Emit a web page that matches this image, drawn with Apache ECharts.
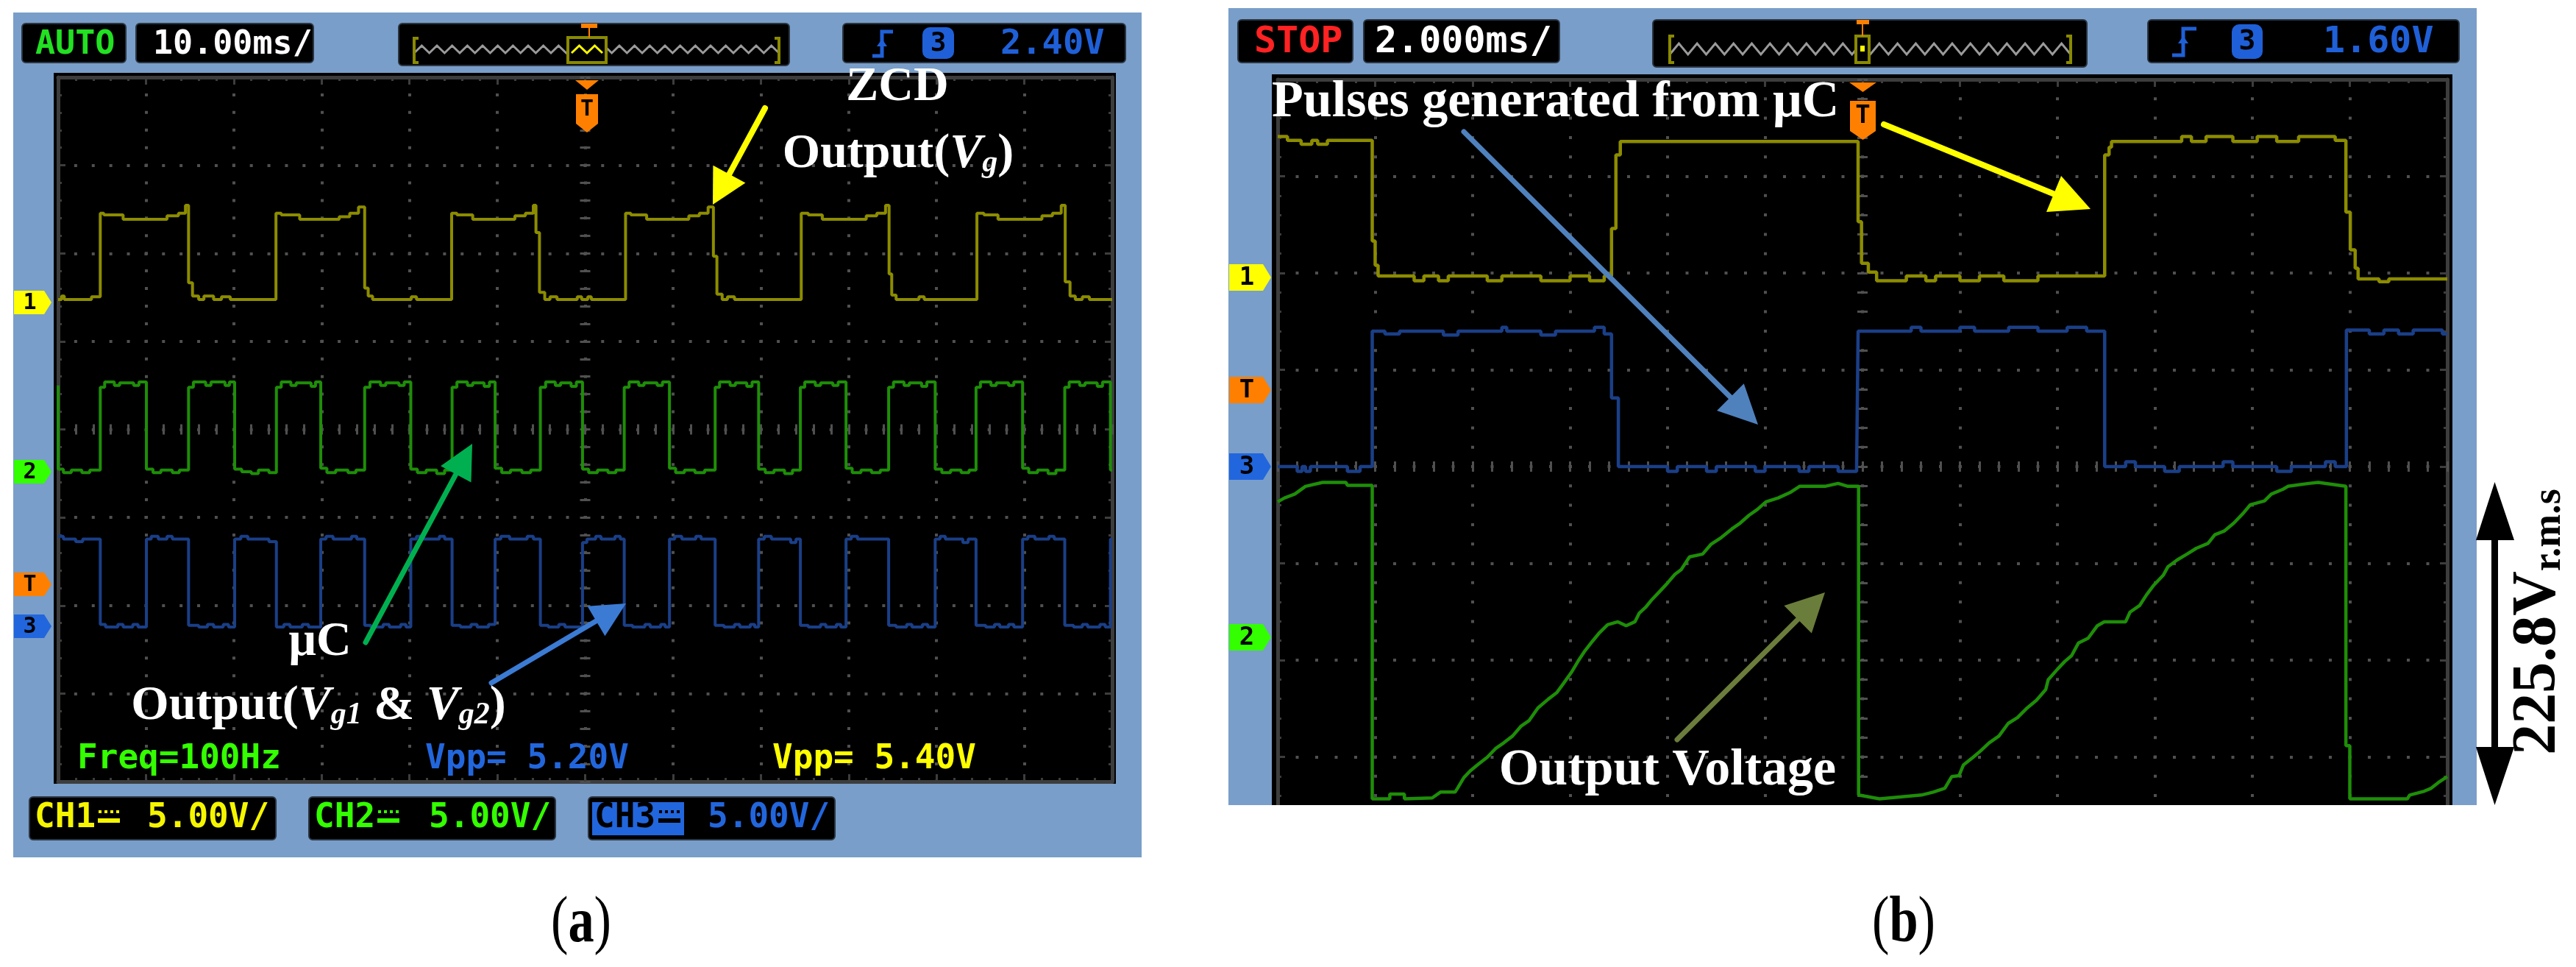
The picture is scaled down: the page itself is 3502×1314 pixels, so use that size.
<!DOCTYPE html>
<html><head><meta charset="utf-8">
<script src="https://cdn.jsdelivr.net/npm/echarts@6/dist/echarts.min.js"></script>
<style>html,body{margin:0;padding:0;background:#fff}#c{width:3502px;height:1314px}</style>
</head><body><div id="c"></div>
<script>
// ---------------- DATA ----------------
// Panel (a): 10 ms/div, 5 V/div. time in ms relative to trigger, volts relative to each channel ground
const ch1A = [
[-60,0.05],[-59.6,0.05],[-59.6,0.25],[-59.3,0.25],[-59.3,0.05],[-56.2,0.05],[-56.2,0.2],[-55.2,0.2],
[-55.2,4.95],[-54.8,4.95],[-54.8,4.85],[-52.6,4.85],[-52.6,4.6],[-47.6,4.6],[-47.6,4.8],[-46.3,4.8],[-46.3,4.95],[-45.5,4.95],[-45.5,5.4],[-45.15,5.4],
[-45.15,1.0],[-44.7,1.0],[-44.7,0.25],[-44.0,0.25],[-44.0,0.05],[-43.4,0.05],[-43.4,0.25],[-42.3,0.25],[-42.3,0.05],[-41.4,0.05],[-41.4,0.2],[-40.4,0.2],[-40.4,0.05],[-35.2,0.05],
[-35.2,4.95],[-34.6,4.95],[-34.6,4.85],[-32.5,4.85],[-32.5,4.6],[-28.0,4.6],[-28.0,4.75],[-26.8,4.75],[-26.8,4.95],[-25.8,4.95],[-25.8,5.3],[-25.1,5.3],
[-25.1,0.7],[-24.7,0.7],[-24.7,0.25],[-24.2,0.25],[-24.2,0.05],[-19.8,0.05],[-19.8,0.2],[-19.2,0.2],[-19.2,0.05],[-15.2,0.05],
[-15.2,4.95],[-14.6,4.95],[-14.6,4.85],[-12.8,4.85],[-12.8,4.6],[-8.0,4.6],[-8.0,4.8],[-6.8,4.8],[-6.8,4.95],[-5.9,4.95],[-5.9,5.4],[-5.6,5.4],
[-5.6,3.85],[-5.2,3.85],[-5.2,0.45],[-4.6,0.45],[-4.6,0.05],[-4.0,0.05],[-4.0,0.2],[-3.2,0.2],[-3.2,0.05],[-0.9,0.05],[-0.9,0.2],[-0.4,0.2],[-0.4,0.05],[0.3,0.05],[0.3,0.2],[0.7,0.2],[0.7,0.05],[4.6,0.05],
[4.6,4.95],[5.2,4.95],[5.2,4.85],[7.0,4.85],[7.0,4.6],[11.8,4.6],[11.8,4.8],[13.0,4.8],[13.0,4.95],[14.0,4.95],[14.0,5.3],[14.6,5.3],
[14.6,2.5],[15.0,2.5],[15.0,0.35],[15.6,0.35],[15.6,0.05],[16.2,0.05],[16.2,0.2],[17.0,0.2],[17.0,0.05],[24.6,0.05],
[24.6,4.95],[25.4,4.95],[25.4,4.85],[27.0,4.85],[27.0,4.6],[32.0,4.6],[32.0,4.8],[33.2,4.8],[33.2,4.95],[34.2,4.95],[34.2,5.4],[34.6,5.4],
[34.6,1.5],[34.9,1.5],[34.9,0.3],[35.4,0.3],[35.4,0.05],[38.0,0.05],[38.0,0.2],[38.6,0.2],[38.6,0.05],[44.6,0.05],
[44.6,4.95],[45.4,4.95],[45.4,4.85],[47.0,4.85],[47.0,4.6],[52.0,4.6],[52.0,4.8],[53.2,4.8],[53.2,4.95],[54.2,4.95],[54.2,5.4],[54.65,5.4],
[54.65,1.05],[55.2,1.05],[55.2,0.25],[55.8,0.25],[55.8,0.05],[56.6,0.05],[56.6,0.2],[57.4,0.2],[57.4,0.05],[60,0.05]
];
const ch2A = [
[-60,4.9],[-60,0.15],[-59.4,0.15],[-59.4,-0.05],[-58.5,-0.05],[-58.5,0.1],[-57.3,0.1],[-57.3,-0.05],[-56.4,-0.05],[-56.4,0.1],[-55.2,0.1],
[-55.2,4.8],[-54.7,4.8],[-54.7,5.1],[-53.6,5.1],[-53.6,4.9],[-53.0,4.9],[-53.0,5.05],[-51.4,5.05],[-51.4,4.9],[-50.8,4.9],[-50.8,5.1],[-49.95,5.1],
[-49.95,0.15],[-49.2,0.15],[-49.2,-0.05],[-48.3,-0.05],[-48.3,0.1],[-47.0,0.1],[-47.0,-0.05],[-46.2,-0.05],[-46.2,0.1],[-45.15,0.1],
[-45.15,4.8],[-44.6,4.8],[-44.6,5.1],[-43.2,5.1],[-43.2,4.9],[-42.6,4.9],[-42.6,5.1],[-41.0,5.1],[-41.0,4.9],[-40.5,4.9],[-40.5,5.1],[-39.9,5.1],
[-39.9,0.15],[-39.1,0.15],[-39.1,0.0],[-38.0,0.0],[-38.0,-0.1],[-37.2,-0.1],[-37.2,0.1],[-36.0,0.1],[-36.0,-0.05],[-35.15,-0.05],
[-35.15,4.8],[-34.6,4.8],[-34.6,5.1],[-33.5,5.1],[-33.5,4.9],[-32.9,4.9],[-32.9,5.05],[-31.2,5.05],[-31.2,4.85],[-30.7,4.85],[-30.7,5.1],[-30.1,5.1],
[-30.1,0.2],[-29.4,0.2],[-29.4,-0.05],[-28.4,-0.05],[-28.4,0.1],[-27.0,0.1],[-27.0,-0.05],[-26.1,-0.05],[-26.1,0.1],[-25.1,0.1],
[-25.1,4.8],[-24.5,4.8],[-24.5,5.1],[-23.3,5.1],[-23.3,4.9],[-22.7,4.9],[-22.7,5.05],[-21.2,5.05],[-21.2,4.9],[-20.6,4.9],[-20.6,5.1],[-19.85,5.1],
[-19.85,0.15],[-19.1,0.15],[-19.1,-0.05],[-18.1,-0.05],[-18.1,0.1],[-16.9,0.1],[-16.9,-0.1],[-16.0,-0.1],[-16.0,0.1],[-15.15,0.1],
[-15.15,4.8],[-14.6,4.8],[-14.6,5.1],[-13.4,5.1],[-13.4,4.9],[-12.8,4.9],[-12.8,5.05],[-11.5,5.05],[-11.5,4.85],[-10.9,4.85],[-10.9,5.1],[-10.25,5.1],
[-10.25,0.2],[-9.5,0.2],[-9.5,-0.05],[-8.5,-0.05],[-8.5,0.1],[-7.2,0.1],[-7.2,-0.05],[-6.2,-0.05],[-6.2,0.1],[-5.1,0.1],
[-5.1,4.8],[-4.5,4.8],[-4.5,5.1],[-3.4,5.1],[-3.4,4.9],[-2.8,4.9],[-2.8,5.05],[-1.6,5.05],[-1.6,4.85],[-1.0,4.85],[-1.0,5.1],[-0.3,5.1],
[-0.3,0.15],[0.4,0.15],[0.4,-0.05],[1.4,-0.05],[1.4,0.1],[2.6,0.1],[2.6,-0.05],[3.5,-0.05],[3.5,0.1],[4.45,0.1],
[4.45,4.8],[5.0,4.8],[5.0,5.1],[6.1,5.1],[6.1,4.9],[6.7,4.9],[6.7,5.05],[8.2,5.05],[8.2,4.9],[8.8,4.9],[8.8,5.1],[9.6,5.1],
[9.6,0.2],[10.3,0.2],[10.3,-0.05],[11.3,-0.05],[11.3,0.1],[12.5,0.1],[12.5,-0.05],[13.6,-0.05],[13.6,0.1],[14.8,0.1],
[14.8,4.8],[15.3,4.8],[15.3,5.1],[16.5,5.1],[16.5,4.9],[17.1,4.9],[17.1,5.05],[18.4,5.05],[18.4,4.85],[19.0,4.85],[19.0,5.1],[19.75,5.1],
[19.75,0.15],[20.5,0.15],[20.5,-0.05],[21.5,-0.05],[21.5,0.1],[22.7,0.1],[22.7,-0.1],[23.6,-0.1],[23.6,0.1],[24.5,0.1],
[24.5,4.8],[25.0,4.8],[25.0,5.1],[26.2,5.1],[26.2,4.9],[26.8,4.9],[26.8,5.05],[28.2,5.05],[28.2,4.9],[28.8,4.9],[28.8,5.1],[29.7,5.1],
[29.7,0.2],[30.4,0.2],[30.4,-0.05],[31.4,-0.05],[31.4,0.1],[32.6,0.1],[32.6,-0.05],[33.6,-0.05],[33.6,0.1],[34.55,0.1],
[34.55,4.8],[35.1,4.8],[35.1,5.1],[36.3,5.1],[36.3,4.9],[36.9,4.9],[36.9,5.05],[38.3,5.05],[38.3,4.85],[38.9,4.85],[38.9,5.1],[39.85,5.1],
[39.85,0.15],[40.6,0.15],[40.6,-0.05],[41.6,-0.05],[41.6,0.1],[42.8,0.1],[42.8,-0.05],[43.7,-0.05],[43.7,0.1],[44.5,0.1],
[44.5,4.8],[45.0,4.8],[45.0,5.1],[46.2,5.1],[46.2,4.9],[46.8,4.9],[46.8,5.05],[48.2,5.05],[48.2,4.9],[48.8,4.9],[48.8,5.1],[49.8,5.1],
[49.8,0.2],[50.5,0.2],[50.5,-0.05],[51.5,-0.05],[51.5,0.1],[52.7,0.1],[52.7,-0.1],[53.6,-0.1],[53.6,0.1],[54.6,0.1],
[54.6,4.8],[55.1,4.8],[55.1,5.1],[56.3,5.1],[56.3,4.9],[56.9,4.9],[56.9,5.05],[58.3,5.05],[58.3,4.85],[58.9,4.85],[58.9,5.1],[59.8,5.1],
[59.8,0.1],[60,0.1]
];
const ch3A = [
[-60,5.15],[-59.4,5.15],[-59.4,5.0],[-58.0,5.0],[-58.0,4.85],[-57.2,4.85],[-57.2,5.0],[-55.2,5.0],
[-55.2,0.15],[-54.6,0.15],[-54.6,0.0],[-53.2,0.0],[-53.2,0.15],[-52.6,0.15],[-52.6,0.0],[-51.5,0.0],[-51.5,0.15],[-50.9,0.15],[-50.9,0.0],[-49.95,0.0],
[-49.95,5.0],[-49.4,5.0],[-49.4,5.15],[-48.6,5.15],[-48.6,5.0],[-47.6,5.0],[-47.6,5.15],[-47.0,5.15],[-47.0,5.0],[-45.15,5.0],
[-45.15,0.1],[-44.0,0.1],[-44.0,0.0],[-43.0,0.0],[-43.0,0.15],[-42.3,0.15],[-42.3,0.0],[-41.2,0.0],[-41.2,0.15],[-40.6,0.15],[-40.6,0.0],[-39.9,0.0],
[-39.9,5.0],[-39.2,5.0],[-39.2,5.15],[-38.4,5.15],[-38.4,5.0],[-36.0,5.0],[-36.0,4.85],[-35.15,4.85],
[-35.15,0.0],[-34.3,0.0],[-34.3,0.15],[-33.6,0.15],[-33.6,0.0],[-32.2,0.0],[-32.2,0.15],[-31.5,0.15],[-31.5,0.0],[-30.1,0.0],
[-30.1,5.0],[-29.5,5.0],[-29.5,5.15],[-28.7,5.15],[-28.7,5.0],[-26.6,5.0],[-26.6,5.15],[-26.0,5.15],[-26.0,5.0],[-25.1,5.0],
[-25.1,0.1],[-24.4,0.1],[-24.4,0.0],[-23.0,0.0],[-23.0,0.15],[-22.3,0.15],[-22.3,0.0],[-21.0,0.0],[-21.0,0.15],[-20.4,0.15],[-20.4,0.0],[-19.85,0.0],
[-19.85,5.0],[-19.2,5.0],[-19.2,5.15],[-18.4,5.15],[-18.4,5.0],[-16.6,5.0],[-16.6,5.15],[-16.0,5.15],[-16.0,5.0],[-15.15,5.0],
[-15.15,0.1],[-14.2,0.1],[-14.2,0.0],[-13.0,0.0],[-13.0,0.15],[-12.3,0.15],[-12.3,0.0],[-11.0,0.0],[-11.0,0.15],[-10.25,0.15],
[-10.25,5.0],[-9.6,5.0],[-9.6,5.15],[-8.6,5.15],[-8.6,5.0],[-6.6,5.0],[-6.6,5.15],[-5.9,5.15],[-5.9,5.0],[-5.1,5.0],
[-5.1,0.1],[-4.2,0.1],[-4.2,0.0],[-3.0,0.0],[-3.0,0.15],[-2.3,0.15],[-2.3,0.0],[-0.3,0.0],
[-0.3,4.8],[0.2,4.8],[0.2,5.0],[1.2,5.0],[1.2,5.15],[1.8,5.15],[1.8,5.0],[3.4,5.0],[3.4,5.15],[4.0,5.15],[4.0,5.0],[4.45,5.0],
[4.45,0.1],[5.4,0.1],[5.4,0.0],[6.8,0.0],[6.8,0.15],[7.4,0.15],[7.4,0.0],[8.6,0.0],[8.6,0.15],[9.1,0.15],[9.1,0.0],[9.6,0.0],
[9.6,5.0],[10.2,5.0],[10.2,5.15],[11.0,5.15],[11.0,5.0],[12.6,5.0],[12.6,5.15],[13.2,5.15],[13.2,5.0],[14.8,5.0],
[14.8,0.1],[15.8,0.1],[15.8,0.0],[17.0,0.0],[17.0,0.15],[17.6,0.15],[17.6,0.0],[18.8,0.0],[18.8,0.15],[19.3,0.15],[19.3,0.0],[19.75,0.0],
[19.75,5.0],[20.4,5.0],[20.4,5.15],[21.2,5.15],[21.2,5.0],[23.4,5.0],[23.4,4.8],[24.0,4.8],[24.0,5.0],[24.5,5.0],
[24.5,0.1],[25.4,0.1],[25.4,0.0],[26.8,0.0],[26.8,0.15],[27.4,0.15],[27.4,0.0],[28.6,0.0],[28.6,0.15],[29.1,0.15],[29.1,0.0],[29.7,0.0],
[29.7,5.0],[30.3,5.0],[30.3,5.15],[31.0,5.15],[31.0,5.0],[34.55,5.0],
[34.55,0.1],[35.4,0.1],[35.4,0.0],[36.6,0.0],[36.6,0.15],[37.2,0.15],[37.2,0.0],[38.4,0.0],[38.4,0.15],[39.0,0.15],[39.0,0.0],[39.85,0.0],
[39.85,5.0],[40.4,5.0],[40.4,5.15],[41.0,5.15],[41.0,5.0],[43.0,5.0],[43.0,4.8],[43.6,4.8],[43.6,5.0],[44.5,5.0],
[44.5,0.1],[45.6,0.1],[45.6,0.0],[46.6,0.0],[46.6,0.15],[47.2,0.15],[47.2,0.0],[48.2,0.0],[48.2,0.15],[48.8,0.15],[48.8,0.0],[49.8,0.0],
[49.8,5.0],[50.4,5.0],[50.4,5.15],[51.2,5.15],[51.2,5.0],[52.8,5.0],[52.8,5.15],[53.4,5.15],[53.4,5.0],[54.6,5.0],
[54.6,0.1],[55.6,0.1],[55.6,0.0],[56.6,0.0],[56.6,0.15],[57.2,0.15],[57.2,0.0],[58.6,0.0],[58.6,0.15],[59.2,0.15],[59.2,0.0],[59.8,0.0],
[59.8,5.0],[60,5.0]
];
// screen position of each channel ground in divisions from centre (a)
const groundA = [1.466, -0.481, -2.245];
const voltsPerDivA = 5;

// Panel (b): 2 ms/div, time in ms relative to trigger, amplitude in divisions above channel ground
const ch1B = [
[-12.0,1.44],[-11.8,1.44],[-11.8,1.40],[-11.52,1.40],[-11.52,1.36],[-11.3,1.36],[-11.3,1.40],[-11.18,1.40],[-11.18,1.36],[-10.98,1.36],[-10.98,1.40],[-10.06,1.40],
[-10.06,0.36],[-10.0,0.36],[-10.0,0.11],[-9.94,0.11],[-9.94,0.0],[-9.2,0.0],[-9.2,-0.05],[-9.0,-0.05],[-9.0,0.0],[-8.7,0.0],[-8.7,-0.05],[-8.5,-0.05],[-8.5,0.0],
[-7.7,0.0],[-7.7,-0.05],[-7.4,-0.05],[-7.4,0.0],[-6.6,0.0],[-6.6,-0.05],[-6.0,-0.05],[-6.0,0.0],[-5.6,0.0],[-5.6,-0.05],[-5.3,-0.05],[-5.3,0.0],[-5.15,0.0],
[-5.15,0.49],[-5.06,0.49],[-5.06,1.25],[-4.97,1.25],[-4.97,1.39],[-0.09,1.39],
[-0.09,0.56],[-0.02,0.56],[-0.02,0.13],[0.12,0.13],[0.12,0.04],[0.29,0.04],[0.29,-0.05],[0.9,-0.05],[0.9,0.0],[1.3,0.0],[1.3,-0.05],[1.5,-0.05],[1.5,0.0],
[2.0,0.0],[2.0,-0.05],[2.4,-0.05],[2.4,0.0],[2.9,0.0],[2.9,-0.05],[3.6,-0.05],[3.6,0.0],[4.97,0.0],
[4.97,1.25],[5.06,1.25],[5.06,1.33],[5.11,1.33],[5.11,1.39],[6.55,1.39],[6.55,1.44],[6.75,1.44],[6.75,1.39],[7.05,1.39],[7.05,1.44],[7.6,1.44],[7.6,1.39],
[8.1,1.39],[8.1,1.44],[8.5,1.44],[8.5,1.39],[8.95,1.39],[8.95,1.44],[9.7,1.44],[9.7,1.40],[9.92,1.40],
[9.92,0.66],[10.01,0.66],[10.01,0.27],[10.11,0.27],[10.11,0.08],[10.17,0.08],[10.17,-0.03],[10.6,-0.03],[10.6,-0.06],[10.8,-0.06],[10.8,-0.03],[12.0,-0.03]
];
const ch2B = [
[-12.0,1.40],[-11.86,1.44],[-11.65,1.48],[-11.43,1.56],[-11.08,1.60],[-10.6,1.60],[-10.57,1.57],[-10.06,1.57],
[-10.06,-1.67],[-9.7,-1.67],[-9.7,-1.62],[-9.4,-1.62],[-9.4,-1.67],[-8.83,-1.66],[-8.66,-1.60],[-8.36,-1.60],
[-8.31,-1.56],[-8.18,-1.45],[-8.05,-1.38],[-7.88,-1.31],[-7.70,-1.24],[-7.53,-1.15],[-7.36,-1.09],[-7.18,-1.02],[-7.01,-0.92],[-6.84,-0.86],
[-6.66,-0.73],[-6.45,-0.64],[-6.27,-0.57],[-6.14,-0.48],[-5.97,-0.36],[-5.84,-0.25],[-5.71,-0.15],[-5.54,-0.04],[-5.41,0.04],[-5.23,0.13],
[-5.02,0.16],[-4.85,0.12],[-4.67,0.16],[-4.58,0.25],[-4.45,0.31],[-4.32,0.39],[-4.15,0.48],[-4.02,0.55],[-3.85,0.65],[-3.72,0.70],[-3.55,0.83],
[-3.28,0.86],[-3.11,0.96],[-2.90,1.03],[-2.68,1.12],[-2.51,1.18],[-2.33,1.26],[-2.16,1.32],[-1.98,1.40],[-1.73,1.44],[-1.47,1.50],[-1.29,1.56],
[-0.77,1.56],[-0.5,1.59],[-0.3,1.56],[-0.08,1.56],
[-0.08,-1.63],[0.35,-1.67],[1.21,-1.63],[1.45,-1.60],[1.69,-1.56],[1.83,-1.44],[1.98,-1.43],[2.07,-1.32],[2.27,-1.24],[2.41,-1.18],[2.60,-1.09],
[2.80,-1.02],[2.99,-0.89],[3.18,-0.83],[3.38,-0.73],[3.57,-0.65],[3.76,-0.54],[3.81,-0.44],[4.00,-0.33],[4.15,-0.25],[4.29,-0.19],[4.43,-0.06],
[4.63,-0.01],[4.82,0.12],[4.96,0.16],[5.40,0.16],[5.49,0.26],[5.69,0.33],[5.83,0.44],[5.98,0.54],[6.17,0.64],[6.27,0.73],[6.46,0.80],[6.66,0.86],
[6.85,0.92],[7.09,0.97],[7.23,1.06],[7.43,1.10],[7.62,1.18],[7.81,1.28],[7.96,1.37],[8.25,1.41],[8.39,1.48],[8.63,1.53],[8.73,1.56],[9.16,1.59],
[9.35,1.60],[9.92,1.56],
[9.92,-1.12],[10.0,-1.12],[10.0,-1.67],[11.18,-1.67],[11.23,-1.63],[11.53,-1.59],[11.67,-1.56],[11.82,-1.50],[12.0,-1.44]
];
const ch3B = [
[-12.0,0.0],[-11.6,0.0],[-11.6,-0.05],[-11.5,-0.05],[-11.5,0.0],[-11.43,0.0],[-11.43,-0.05],[-11.33,-0.05],[-11.33,0.0],[-10.57,0.0],[-10.57,-0.05],[-10.31,-0.05],[-10.31,0.0],[-10.06,0.0],
[-10.06,1.40],[-9.8,1.40],[-9.8,1.37],[-9.5,1.37],[-9.5,1.40],[-8.6,1.40],[-8.6,1.36],[-8.3,1.36],[-8.3,1.40],[-7.4,1.40],[-7.4,1.44],[-7.3,1.44],[-7.3,1.40],
[-6.6,1.40],[-6.6,1.36],[-6.3,1.36],[-6.3,1.40],[-5.5,1.40],[-5.5,1.44],[-5.3,1.44],[-5.3,1.37],[-5.15,1.37],
[-5.15,0.71],[-5.01,0.71],[-5.01,0.0],[-4.0,0.0],[-4.0,-0.05],[-3.8,-0.05],[-3.8,0.0],[-3.2,0.0],[-3.2,-0.05],[-3.0,-0.05],[-3.0,0.0],[-2.2,0.0],[-2.2,-0.05],
[-2.0,-0.05],[-2.0,0.0],[-1.3,0.0],[-1.3,-0.05],[-1.1,-0.05],[-1.1,0.0],[-0.5,0.0],[-0.5,-0.05],[-0.12,-0.05],[-0.12,0.0],[-0.09,0.0],
[-0.09,1.40],[1.0,1.40],[1.0,1.44],[1.2,1.44],[1.2,1.40],[2.0,1.40],[2.0,1.44],[2.3,1.44],[2.3,1.40],[3.0,1.40],[3.0,1.44],[3.6,1.44],[3.6,1.40],
[4.2,1.40],[4.2,1.44],[4.6,1.44],[4.6,1.40],[4.97,1.40],
[4.97,0.0],[5.4,0.0],[5.4,0.05],[5.6,0.05],[5.6,0.0],[6.2,0.0],[6.2,-0.05],[6.5,-0.05],[6.5,0.0],[7.4,0.0],[7.4,0.05],[7.6,0.05],[7.6,0.0],
[8.5,0.0],[8.5,-0.05],[8.8,-0.05],[8.8,0.0],[9.5,0.0],[9.5,0.05],[9.7,0.05],[9.7,0.0],[9.93,0.0],
[9.93,1.41],[10.4,1.41],[10.4,1.37],[10.7,1.37],[10.7,1.41],[11.0,1.41],[11.0,1.37],[11.3,1.37],[11.3,1.41],[11.9,1.41],[11.9,1.37],[12.0,1.37]
];
const groundB = [1.970, -1.764, 0];

// axis ranges
const xRangeA = [-60, 60, 10];
const xRangeB = [-12, 12, 2];
const yRange = [-4, 4, 1];

// texts
const topTextsA = ['AUTO', '10.00ms/', '2.40V'];
const topTextsB = ['STOP', '2.000ms/', '1.60V'];
const measTextsA = ['Freq=100Hz', 'Vpp= 5.20V', 'Vpp= 5.40V'];
const chLabelsA = ['CH1', 'CH2', 'CH3'];
const chScaleA = '5.00V/';

// ---------------- STYLE ----------------
const BLUE = '#799ec9', DOT = '#505050', BORDER = '#3d3d3d';
const C1 = '#8c8c00', C2 = '#1e8e08', C3 = '#1a3f88';
const M1 = '#ffff00', M2 = '#33ff00', M3 = '#2266dd', MT = '#ff8000';
const TBLUE = '#1f60d8';
const MONO = '"DejaVu Sans Mono"', SERIF = '"Liberation Serif"';

function buildAxes(gi, xr, yr, dx, dy, xStart, yStart) {
  const base = { gridIndex: gi, type: 'value', axisLabel: { show: false }, z: 5, silent: true };
  const xA = e => Object.assign({}, base, { min: xr[0], max: xr[1], interval: xr[2] }, e);
  const yA = e => Object.assign({}, base, { min: yr[0], max: yr[1], interval: yr[2] }, e);
  const centre = (inside, idx) => ({
    axisLine: { show: true, onZero: true, onZeroAxisIndex: idx, lineStyle: { color: 'rgba(0,0,0,0)', width: 1 } },
    axisTick: { show: true, inside: inside, length: 7, lineStyle: { color: DOT, width: 3 } },
    minorTick: { show: true, splitNumber: 5, length: 7, lineStyle: { color: DOT, width: 3 } }
  });
  const border = pos => ({
    position: pos,
    axisLine: { show: true, onZero: false, lineStyle: { color: BORDER, width: 5 } },
    axisTick: { show: true, inside: true, length: 10, lineStyle: { color: BORDER, width: 3 } },
    minorTick: { show: true, splitNumber: 5, length: 5, lineStyle: { color: BORDER, width: 3 } },
    splitLine: { show: false }
  });
  const x = [
    xA(Object.assign({ position: 'bottom', splitLine: { show: true, lineStyle: { color: DOT, width: 4, type: [4, dy / 5 - 4], dashOffset: 2 } } }, centre(true, yStart))),
    xA(Object.assign({ position: 'bottom', splitLine: { show: false } }, centre(false, yStart))),
    xA(border('bottom')), xA(border('top'))
  ];
  const y = [
    yA(Object.assign({ position: 'left', splitLine: { show: true, lineStyle: { color: DOT, width: 4, type: [4, dx / 5 - 4], dashOffset: 2 } } }, centre(true, xStart))),
    yA(Object.assign({ position: 'left', splitLine: { show: false } }, centre(false, xStart))),
    yA(border('left')), yA(border('right'))
  ];
  return { x, y };
}
const axA = buildAxes(0, xRangeA, yRange, 119.4, 119.6, 0, 0);
const axB = buildAxes(1, xRangeB, yRange, 132.5, 131.5, 4, 4);

function trace(data, color, xi, w, z, scale, off) {
  return { type: 'line', data: data.map(p => [p[0], p[1] / scale + off]), xAxisIndex: xi, yAxisIndex: xi,
    showSymbol: false, symbol: 'none', lineStyle: { color, width: w }, itemStyle: { color },
    animation: false, silent: true, z, clip: true };
}
const series = [
  trace(ch3A, C3, 0, 4, 6, voltsPerDivA, groundA[2]),
  trace(ch2A, C2, 0, 4, 7, voltsPerDivA, groundA[1]),
  trace(ch1A, C1, 0, 4, 8, voltsPerDivA, groundA[0]),
  trace(ch3B, C3, 4, 4.5, 6, 1, groundB[2]),
  trace(ch2B, C2, 4, 4.5, 7, 1, groundB[1]),
  trace(ch1B, C1, 4, 4.5, 8, 1, groundB[0])
];

// ---------------- GRAPHIC (decoration) ----------------
const G = [];
const rect = (x, y, w, h, fill, z, r) => ({ type: 'rect', z, shape: { x, y, width: w, height: h, r: r || 0 }, style: { fill } });
const box = (x, y, w, h) => ({ type: 'rect', z: 3, shape: { x, y, width: w, height: h, r: 5 }, style: { fill: '#000', stroke: '#2b3542', lineWidth: 2 } });
const txt = (x, y, s, color, size, extra) => Object.assign({ type: 'text', x, y, z: 4,
  style: { text: s, fill: color, font: 'bold ' + size + 'px ' + MONO, textAlign: 'left', textVerticalAlign: 'middle', verticalAlign: 'middle' } }, extra || {});
const poly = (pts, fill, z) => ({ type: 'polygon', z: z || 20, shape: { points: pts }, style: { fill } });
const pline = (pts, color, w, z) => ({ type: 'polyline', z: z || 4, shape: { points: pts }, style: { stroke: color, lineWidth: w, fill: 'none' } });
function zig(x0, x1, n, ya, yb, color, w) {
  const pts = [];
  for (let i = 0; i <= n; i++) pts.push([x0 + (x1 - x0) * i / n, i % 2 ? ya : yb]);
  return pline(pts, color, w, 4);
}
function arrow(x1, y1, x2, y2, color, lw, hl, hw) {
  const dx = x2 - x1, dy = y2 - y1, L = Math.hypot(dx, dy), ux = dx / L, uy = dy / L;
  const bx = x2 - ux * hl, by = y2 - uy * hl, px = -uy, py = ux;
  return [
    { type: 'line', z: 25, shape: { x1, y1, x2: bx + ux * 4, y2: by + uy * 4 }, style: { stroke: color, lineWidth: lw, lineCap: 'round' } },
    poly([[x2, y2], [bx + px * hw / 2, by + py * hw / 2], [bx - px * hw / 2, by - py * hw / 2]], color, 25)
  ];
}
function chMarker(x0, x1, x2, yc, h, color, label, fs) {
  return [poly([[x0, yc - h / 2], [x1, yc - h / 2], [x2, yc], [x1, yc + h / 2], [x0, yc + h / 2]], color, 20),
    { type: 'text', z: 21, x: (x0 + x1) / 2 + 1, y: yc + 1, style: { text: label, fill: '#000', font: 'bold ' + fs + 'px ' + MONO, textAlign: 'center', textVerticalAlign: 'middle', verticalAlign: 'middle' } }];
}
function topT(xl, xr, yt, yb1, yb2, yb3, fs) {
  const xc = (xl + xr) / 2;
  return [poly([[xl, yt], [xr, yt], [xc, yt + 13]], MT, 20),
    poly([[xl + 1, yb1], [xr - 1, yb1], [xr - 1, yb2], [xc, yb3], [xl + 1, yb2]], MT, 20),
    { type: 'text', z: 21, x: xc, y: (yb1 + yb2) / 2 + 1, style: { text: 'T', fill: '#000', font: 'bold ' + fs + 'px ' + MONO, textAlign: 'center', textVerticalAlign: 'middle', verticalAlign: 'middle' } }];
}
function edgeIcon(x0, x1, x2, yTop, yBot, color) {
  return [pline([[x0, yBot], [x1, yBot], [x1, yTop], [x2, yTop]], color, 5, 4),
    poly([[x1, yTop + 10], [x1 - 7, yTop + 20], [x1 + 7, yTop + 20]], color, 4)];
}
function srcIcon(x, y, w, h, fs) {
  return [{ type: 'rect', z: 4, shape: { x, y, width: w, height: h, r: 10 }, style: { fill: TBLUE } },
    { type: 'text', z: 5, x: x + w / 2, y: y + h / 2 + 1, style: { text: '3', fill: '#000', font: 'bold ' + fs + 'px ' + MONO, textAlign: 'center', textVerticalAlign: 'middle', verticalAlign: 'middle' } }];
}
function dcSym(x, y, color) {
  const out = [rect(x, y + 13, 30, 6, color, 5)];
  for (let i = 0; i < 4; i++) out.push(rect(x + 1 + i * 8, y + 2, 4, 4, color, 5));
  return out;
}

// frames & screens
G.push(rect(18, 17, 1534, 1148, BLUE, 1), rect(73, 99, 1444, 966, '#000', 2));
G.push(rect(1670, 11, 1697, 1083, BLUE, 1), rect(1729, 101, 1605, 993, '#000', 2));

// panel (a) top bar
G.push(box(30, 32, 141, 53), box(185, 32, 241, 53), box(542, 32, 531, 57), box(1146, 32, 384, 53));
G.push(txt(48, 61, topTextsA[0], '#22e022', 45), txt(208, 61, topTextsA[1], '#ffffff', 45), txt(1360, 61, topTextsA[2], TBLUE, 47));
G.push(...edgeIcon(1186, 1199, 1214, 43, 76, TBLUE), ...srcIcon(1254, 37, 43, 43, 36));
G.push(zig(563, 1059, 48, 62, 72, '#9a9a9a', 3));
G.push(pline([[569, 52], [563, 52], [563, 85], [569, 85]], '#8a8a00', 4), pline([[1053, 52], [1059, 52], [1059, 85], [1053, 85]], '#8a8a00', 4));
G.push({ type: 'rect', z: 5, shape: { x: 772, y: 51, width: 52, height: 34 }, style: { fill: '#000', stroke: '#8a8a00', lineWidth: 4 } });
G.push(Object.assign(zig(777, 819, 4, 62, 72, '#ffff00', 3), { z: 6 }));
G.push(rect(790, 32, 22, 6, MT, 6), { type: 'line', z: 6, shape: { x1: 801, y1: 38, x2: 801, y2: 51 }, style: { stroke: MT, lineWidth: 2 } });

// panel (b) top bar
G.push(box(1683, 27, 156, 58), box(1854, 27, 266, 58), box(2247, 27, 590, 64), box(2920, 27, 423, 58));
G.push(txt(1705, 58, topTextsB[0], '#ff2222', 50), txt(1869, 58, topTextsB[1], '#ffffff', 50), txt(3158, 58, topTextsB[2], TBLUE, 50));
G.push(...edgeIcon(2953, 2968, 2986, 39, 75, TBLUE), ...srcIcon(3034, 33, 42, 47, 38));
G.push(zig(2270, 2815, 44, 59, 74, '#9a9a9a', 3));
G.push(pline([[2276, 49], [2270, 49], [2270, 85], [2276, 85]], '#8a8a00', 4), pline([[2809, 49], [2815, 49], [2815, 85], [2809, 85]], '#8a8a00', 4));
G.push({ type: 'rect', z: 5, shape: { x: 2523, y: 49, width: 18, height: 36 }, style: { fill: '#000', stroke: '#8a8a00', lineWidth: 4 } });
G.push(rect(2529, 62, 6, 8, '#ffff00', 6));
G.push(rect(2524, 27, 17, 6, MT, 6), { type: 'line', z: 6, shape: { x1: 2532, y1: 33, x2: 2532, y2: 49 }, style: { stroke: MT, lineWidth: 2 } });

// panel (a) measurements & channel boxes
G.push(txt(105, 1032, measTextsA[0], '#33ff00', 46, { z: 22 }), txt(578, 1032, measTextsA[1], M3, 46, { z: 22 }), txt(1050, 1032, measTextsA[2], M1, 46, { z: 22 }));
G.push(box(40, 1083, 335, 58), box(420, 1083, 335, 58), box(800, 1083, 335, 58));
G.push(txt(47, 1112, chLabelsA[0], '#f5f500', 46), ...dcSym(133, 1099, '#f5f500'), txt(200, 1112, chScaleA, '#f5f500', 46));
G.push(txt(427, 1112, chLabelsA[1], '#33ff00', 46), ...dcSym(513, 1099, '#33ff00'), txt(583, 1112, chScaleA, '#33ff00', 46));
G.push(rect(805, 1090, 125, 45, M3, 4), txt(808, 1112, chLabelsA[2], '#000', 46, { z: 5 }), ...dcSym(895, 1099, '#000'), txt(962, 1112, chScaleA, M3, 46));

// channel markers
G.push(...chMarker(19, 60, 70, 411, 32, M1, '1', 30), ...chMarker(19, 60, 70, 641, 32, M2, '2', 30),
  ...chMarker(19, 60, 70, 794, 32, MT, 'T', 30), ...chMarker(19, 60, 70, 851, 32, M3, '3', 30));
G.push(...chMarker(1671, 1717, 1728, 377, 36, M1, '1', 34), ...chMarker(1671, 1717, 1728, 530, 36, MT, 'T', 34),
  ...chMarker(1671, 1717, 1728, 634, 36, M3, '3', 34), ...chMarker(1671, 1717, 1728, 866, 36, M2, '2', 34));
G.push(...topT(782, 814, 109, 128, 168, 180, 30), ...topT(2514, 2551, 112, 137, 178, 190, 34));

// annotations (a)
const richA = {
  a: { font: 'bold 66px ' + SERIF, fill: '#fff', lineHeight: 66 },
  v: { font: 'italic bold 66px ' + SERIF, fill: '#fff', lineHeight: 66 },
  s: { font: 'italic bold 42px ' + SERIF, fill: '#fff', lineHeight: 35, verticalAlign: 'bottom' }
};
const ann = (x, y, t, align, rich) => ({ type: 'text', z: 26, x, y, style: { text: t, rich: rich || richA, fill: '#fff', textAlign: align, textVerticalAlign: 'middle', verticalAlign: 'middle' } });
G.push(ann(1220, 119, '{a|ZCD}', 'center'), ann(1221, 210, '{a|Output(}{v|V}{s|g}{a|)}', 'center'));
G.push(ann(435, 873, '{a|μC}', 'center'), ann(433, 960, '{a|Output(}{v|V}{s|g1}{a| & }{v|V}{s|g2}{a|)}', 'center'));
G.push(...arrow(1040, 147, 969, 278, '#ffff00', 8, 47, 50));
G.push(...arrow(497, 873, 642, 603, '#00b050', 7, 47, 47));
G.push(...arrow(668, 928, 851, 820, '#3b7bd4', 7, 47, 47));

// annotations (b)
const richB = { a: { font: 'bold 70px ' + SERIF, fill: '#fff', lineHeight: 70 } };
G.push(ann(1729, 140, '{a|Pulses generated from μC}', 'left', richB), ann(2267, 1048, '{a|Output Voltage}', 'center', richB));
G.push(...arrow(1990, 179, 2390, 577, '#4f81bd', 7, 53, 52));
G.push(...arrow(2561, 169, 2842, 284, '#ffff00', 8, 54, 53));
G.push(...arrow(2280, 1005, 2481, 805, '#6b7d3b', 7, 52, 53));

// crop of panel (b) bottom
G.push(rect(1660, 1094, 1709, 90, '#ffffff', 30));

// 225.8 V r.m.s double arrow
G.push({ type: 'line', z: 31, shape: { x1: 3391.5, y1: 730, x2: 3391.5, y2: 1019 }, style: { stroke: '#000', lineWidth: 9 } });
G.push(poly([[3391.5, 655], [3366, 734], [3418, 734]], '#000', 31), poly([[3391.5, 1094], [3366, 1015], [3418, 1015]], '#000', 31));
G.push({ type: 'text', z: 31, x: 3451, y: 845, rotation: Math.PI / 2,
  style: { text: '{m|225.8V}{s|r.m.s}', rich: {
    m: { font: 'bold 84px ' + SERIF, fill: '#000', lineHeight: 84 },
    s: { font: 'bold 54px ' + SERIF, fill: '#000', lineHeight: 65, verticalAlign: 'bottom' } },
    textAlign: 'center', textVerticalAlign: 'middle', verticalAlign: 'middle' } });

// sub-figure labels
const richL = { p: { font: '88px ' + SERIF, fill: '#000', lineHeight: 90 }, b: { font: 'bold 88px ' + SERIF, fill: '#000', lineHeight: 90 } };
G.push({ type: 'text', z: 31, x: 790, y: 1256, scaleX: 0.8, style: { text: '{p|(}{b|a}{p|)}', rich: richL, textAlign: 'center', textVerticalAlign: 'middle', verticalAlign: 'middle' } });
G.push({ type: 'text', z: 31, x: 2588, y: 1256, scaleX: 0.8, style: { text: '{p|(}{b|b}{p|)}', rich: richL, textAlign: 'center', textVerticalAlign: 'middle', verticalAlign: 'middle' } });

const chart = echarts.init(document.getElementById('c'), null, { renderer: 'canvas', width: 3502, height: 1314 });
chart.setOption({
  backgroundColor: '#ffffff',
  animation: false,
  grid: [
    { left: 79, top: 105, width: 1433, height: 957, show: false },
    { left: 1737, top: 108, width: 1590, height: 1052, show: false }
  ],
  xAxis: axA.x.concat(axB.x),
  yAxis: axA.y.concat(axB.y),
  series: series,
  graphic: { elements: G }
});
</script></body></html>
